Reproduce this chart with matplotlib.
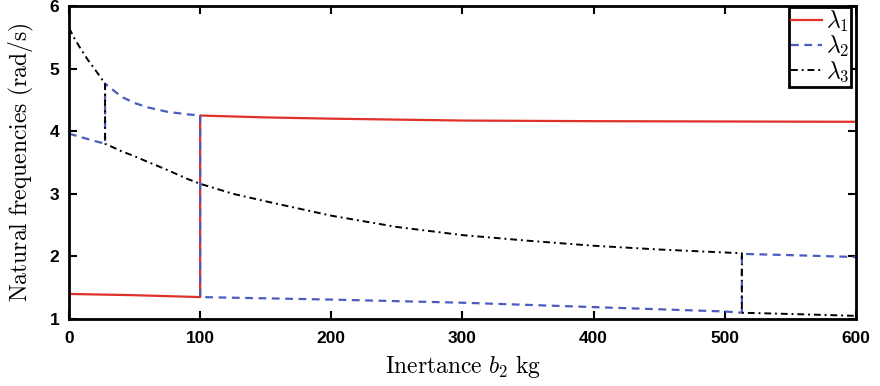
"""
Natural frequencies vs inertance b2 (sorted eigenvalue branches).
"""

import matplotlib
matplotlib.use("Agg")
import matplotlib.pyplot as plt

plt.rcParams["mathtext.fontset"] = "cm"

# lambda_1 : red solid
lam1_x = [0, 25, 50, 75, 100, 100, 150, 200, 300, 400, 500, 600]
lam1_y = [1.40, 1.39, 1.38, 1.365, 1.35, 4.25, 4.22, 4.20, 4.17, 4.16, 4.155, 4.15]

# lambda_2 : blue dashed
lam2_x = [0, 10, 20, 27.5, 27.5, 40, 50, 60, 75, 90, 100, 100, 200, 300, 400, 500, 513, 513, 550, 600]
lam2_y = [3.96, 3.90, 3.84, 3.80, 4.76, 4.55, 4.45, 4.38, 4.31, 4.27, 4.25, 1.35, 1.31, 1.26, 1.19, 1.12, 1.10, 2.04, 2.02, 1.99]

# lambda_3 : black dash-dot
lam3_x = [0, 5, 10, 15, 20, 27.5, 27.5, 40, 50, 60, 75, 90, 100, 125, 150, 200, 250, 300, 350, 400, 450, 513, 513, 550, 600]
lam3_y = [5.65, 5.45, 5.28, 5.12, 4.98, 4.76, 3.80, 3.68, 3.60, 3.51, 3.38, 3.24, 3.16, 3.00, 2.88, 2.65, 2.47, 2.34, 2.25, 2.17, 2.11, 2.05, 1.10, 1.08, 1.05]

fig = plt.figure(figsize=(8.8, 3.86), dpi=100)
ax = fig.add_axes([0.0784, 0.1736, 0.8943, 0.8109])

ax.plot(lam1_x, lam1_y, color="#e0302a", linewidth=1.6, label=r"$\lambda_1$")
ax.plot(lam2_x, lam2_y, color="#4a5cc0", linewidth=1.6, linestyle=(0, (3.5, 2.5)), label=r"$\lambda_2$")
ax.plot(lam3_x, lam3_y, color="black", linewidth=1.4, linestyle=(0, (3.5, 2, 1, 2)), label=r"$\lambda_3$")

ax.set_xlim(0, 600)
ax.set_ylim(1, 6)
ax.set_xticks([0, 100, 200, 300, 400, 500, 600])
ax.set_yticks([1, 2, 3, 4, 5, 6])
ax.tick_params(direction="in", top=True, right=True, length=6, width=1.5)
ax.tick_params(axis="x", pad=9)
ax.tick_params(axis="y", pad=7)
for lab in ax.get_xticklabels() + ax.get_yticklabels():
    lab.set_fontfamily("Liberation Sans")
    lab.set_fontweight("bold")
    lab.set_fontsize(12.5)
for sp in ax.spines.values():
    sp.set_linewidth(2)

ax.set_xlabel(r"$\mathrm{Inertance}\ b_2\ \mathrm{kg}$", fontsize=17, labelpad=5)
ax.set_ylabel(r"$\mathrm{Natural\ frequencies\ (rad/s)}$", fontsize=17, labelpad=10)

leg = ax.legend(loc="upper right", bbox_to_anchor=(0.994, 0.997), fontsize=17,
                handlelength=1.3, handletextpad=0.15, labelspacing=0.0, borderpad=0.1,
                borderaxespad=0.0, fancybox=False, framealpha=1)
leg.get_frame().set_edgecolor("black")
leg.get_frame().set_linewidth(2)

fig.savefig("out.png", dpi=100)
